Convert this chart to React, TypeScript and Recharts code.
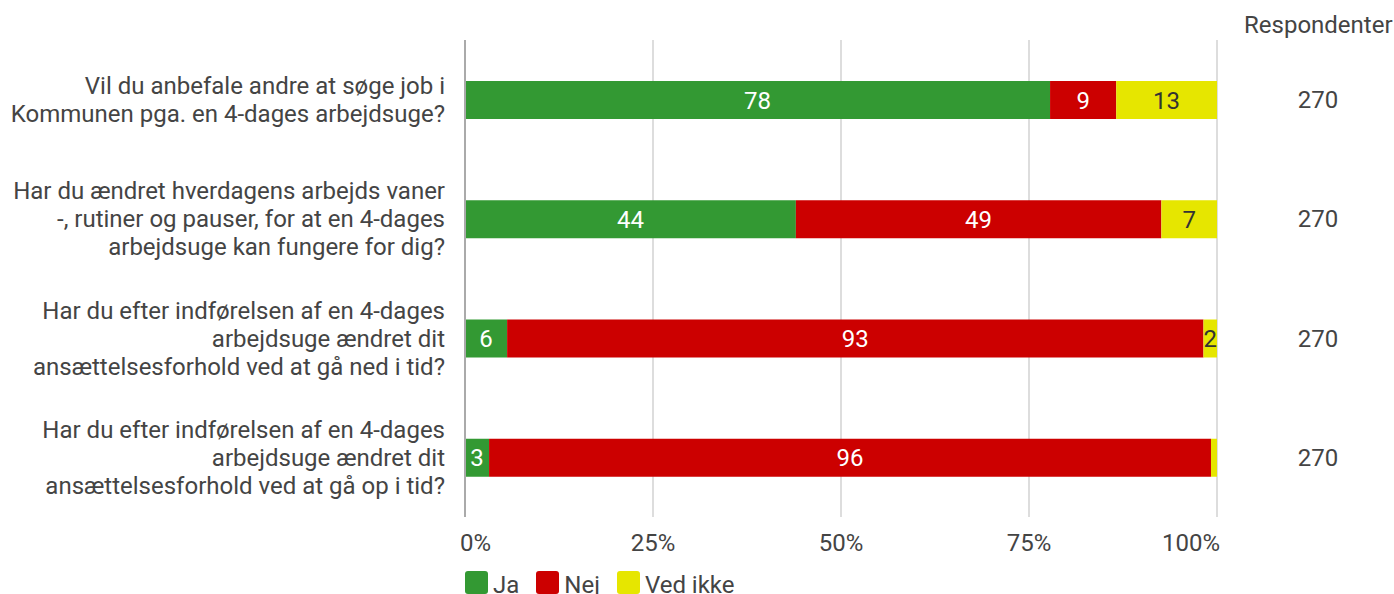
import React from "react";
import {
  BarChart,
  Bar,
  XAxis,
  YAxis,
  CartesianGrid,
  LabelList,
  Legend,
  ReferenceLine,
} from "recharts";

const categories = [
  "Vil du anbefale andre at søge job i\nKommunen pga. en 4-dages arbejdsuge?",
  "Har du ændret hverdagens arbejds vaner\n-, rutiner og pauser, for at en 4-dages\narbejdsuge kan fungere for dig?",
  "Har du efter indførelsen af en 4-dages\narbejdsuge ændret dit\nansættelsesforhold ved at gå ned i tid?",
  "Har du efter indførelsen af en 4-dages\narbejdsuge ændret dit\nansættelsesforhold ved at gå op i tid?",
];
const ja = [77.8, 44.0, 5.6, 3.2];
const nej = [8.8, 48.6, 92.6, 96.0];
const vedIkke = [13.4, 7.4, 1.8, 0.8];
const respondents = [270, 270, 270, 270];
const xTicks = [0, 25, 50, 75, 100];

const seriesNames = ["Ja", "Nej", "Ved ikke"];
const seriesColors = ["#339933", "#cc0000", "#e6e600"];
const labelColors = ["#ffffff", "#ffffff", "#333333"];

const data = categories.map((name, i) => ({
  name,
  ja: ja[i],
  nej: nej[i],
  vedIkke: vedIkke[i],
  respondents: respondents[i],
}));

const FONT = "Roboto, sans-serif";
const TEXT = "#444444";
const FS = 24;

const LeftTick = (props: any) => {
  const { y, payload } = props;
  const lines = String(payload.value).split("\n");
  const n = lines.length;
  return (
    <text textAnchor="end" fill={TEXT} fontSize={FS} fontFamily={FONT}>
      {lines.map((l, i) => (
        <tspan key={i} x={445} y={y + (i - (n - 1) / 2) * 28 + 8.5}>
          {l}
        </tspan>
      ))}
    </text>
  );
};

const RightTick = (props: any) => {
  const { y, index } = props;
  return (
    <text x={1318} y={y + 8.5} textAnchor="middle" fill={TEXT} fontSize={FS} fontFamily={FONT}>
      {respondents[index]}
    </text>
  );
};

const XTick = (props: any) => {
  const { x, payload } = props;
  const v = payload.value;
  let anchor: "start" | "middle" | "end" = "middle";
  let xx = x;
  if (v === 0) {
    anchor = "start";
    xx = x - 5;
  } else if (v === 100) {
    anchor = "end";
    xx = x + 3;
  }
  return (
    <text x={xx} y={551} textAnchor={anchor} fill={TEXT} fontSize={FS} fontFamily={FONT}>
      {v}%
    </text>
  );
};

const makeLabel = (color: string) => (props: any) => {
  const { x, y, width, height, value } = props;
  if (width < 10) return null;
  return (
    <text
      x={x + width / 2}
      y={y + height / 2 + 8.5}
      textAnchor="middle"
      fill={color}
      fontSize={FS}
      fontFamily={FONT}
    >
      {Math.round(value)}
    </text>
  );
};

const LegendContent = () => (
  <div style={{ display: "flex", fontFamily: FONT, fontSize: FS, color: TEXT }}>
    {seriesNames.map((n, i) => (
      <div key={n} style={{ display: "flex", alignItems: "flex-start", marginRight: 17 }}>
        <div
          style={{
            width: 23,
            height: 23,
            background: seriesColors[i],
            borderRadius: 3,
            marginRight: 5,
          }}
        />
        <span style={{ lineHeight: "28px", marginTop: 0 }}>{n}</span>
      </div>
    ))}
  </div>
);

const RespLabel = (props: any) => {
  const vb = props.viewBox || {};
  return (
    <text x={(vb.x ?? 1217) + 27} y={(vb.y ?? 40) - 7} fill={TEXT} fontSize={FS} fontFamily={FONT}>
      Respondenter
    </text>
  );
};

export default function App() {
  return (
    <div style={{ position: "absolute", left: 0, top: 0, width: 1394, height: 594, overflow: "hidden", background: "#fff" }}>
      <BarChart
        width={1394}
        height={594}
        data={data}
        layout="vertical"
        margin={{ top: 40, right: 0, bottom: 0, left: 0 }}
        barCategoryGap={0}
      >
        <CartesianGrid horizontal={false} stroke="#bbbbbb" strokeWidth={1} />
        <XAxis
          type="number"
          domain={[0, 100]}
          ticks={xTicks}
          axisLine={false}
          tickLine={false}
          tick={<XTick />}
          height={45}
        />
        <YAxis
          yAxisId="left"
          type="category"
          dataKey="name"
          width={465}
          axisLine={false}
          tickLine={false}
          tick={<LeftTick />}
          interval={0}
        />
        <YAxis
          yAxisId="right"
          orientation="right"
          type="category"
          dataKey="name"
          width={177}
          axisLine={false}
          tickLine={false}
          tick={<RightTick />}
          interval={0}
          label={<RespLabel />}
        />
        <Legend
          verticalAlign="bottom"
          align="left"
          content={<LegendContent />}
          wrapperStyle={{ position: "absolute", left: 465, top: 571, height: 32, width: 500 }}
        />
        <Bar yAxisId="left" dataKey="ja" name="Ja" stackId="a" fill={seriesColors[0]} barSize={38} isAnimationActive={false}>
          <LabelList dataKey="ja" content={makeLabel(labelColors[0])} />
        </Bar>
        <Bar yAxisId="left" dataKey="nej" name="Nej" stackId="a" fill={seriesColors[1]} barSize={38} isAnimationActive={false}>
          <LabelList dataKey="nej" content={makeLabel(labelColors[1])} />
        </Bar>
        <Bar yAxisId="left" dataKey="vedIkke" name="Ved ikke" stackId="a" fill={seriesColors[2]} barSize={38} isAnimationActive={false}>
          <LabelList dataKey="vedIkke" content={makeLabel(labelColors[2])} />
        </Bar>
        <ReferenceLine yAxisId="left" x={0} stroke="#aaaaaa" strokeWidth={2} />
      </BarChart>
    </div>
  );
}
